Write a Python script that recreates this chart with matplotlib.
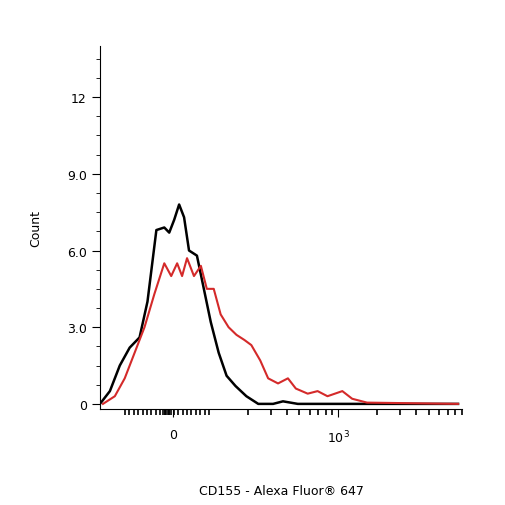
import matplotlib
matplotlib.use("Agg")
import matplotlib.pyplot as plt

black_x = [100,110,120,130,140,148,157,165,170,175,180,185,190,198,205,212,220,228,237,248,260,275,285,300,462]
black_y = [0,0.5,1.5,2.2,2.6,4.0,6.8,6.9,6.7,7.2,7.8,7.3,6.0,5.8,4.5,3.2,2.0,1.1,0.7,0.3,0,0,0.1,0,0]
red_x = [103,115,125,135,145,155,165,172,178,183,188,195,202,208,215,222,230,238,246,253,262,270,280,290,298,310,320,330,345,355,370,462]
red_y = [0,0.3,1.0,2.0,3.0,4.3,5.5,5.0,5.5,5.0,5.7,5.0,5.4,4.5,4.5,3.5,3.0,2.7,2.5,2.3,1.7,1.0,0.8,1.0,0.6,0.4,0.5,0.3,0.5,0.2,0.05,0]
y_ticks = [0, 3, 6, 9, 12]
y_labels = ["0", "3.0", "6.0", "9.0", "12"]
x_tick_pos = [174, 341]
x_tick_labels = ["0", "$10^3$"]

fig = plt.figure(figsize=(5.06, 5.06), dpi=100)
ax = fig.add_axes([100/506, 96/506, 362/506, 363/506])
ax.plot(black_x, black_y, color="black", lw=1.8)
ax.plot(red_x, red_y, color="#d42a2a", lw=1.5)
ax.set_xlim(100, 462)
ax.set_ylim(-0.2, 14.0)
ax.spines["top"].set_visible(False)
ax.spines["right"].set_visible(False)
ax.set_yticks(y_ticks)
ax.set_yticklabels(y_labels, fontsize=9)
ax.set_yticks([i*0.75 for i in range(19)], minor=True)
ax.tick_params(axis="y", which="major", length=6)
ax.tick_params(axis="y", which="minor", length=3)
ax.set_xticks(x_tick_pos)
ax.set_xticklabels(x_tick_labels, fontsize=9)
import math
minor = [125 + i*4.5 for i in range(19)] + [164,165.5,167,168.5,170,171.5]
minor += [210 + 131*math.log10(k) for k in range(1, 10)]
minor += [341 + 131*math.log10(k) for k in range(2, 10)]
ax.set_xticks(minor, minor=True)
ax.tick_params(axis="x", which="major", length=6, pad=8)
ax.tick_params(axis="x", which="minor", length=4, width=1.2)
ax.set_ylabel("Count", fontsize=9, labelpad=18)
ax.set_xlabel("CD155 - Alexa Fluor\u00ae 647", fontsize=9, labelpad=28)
fig.savefig("out.png", dpi=100)
